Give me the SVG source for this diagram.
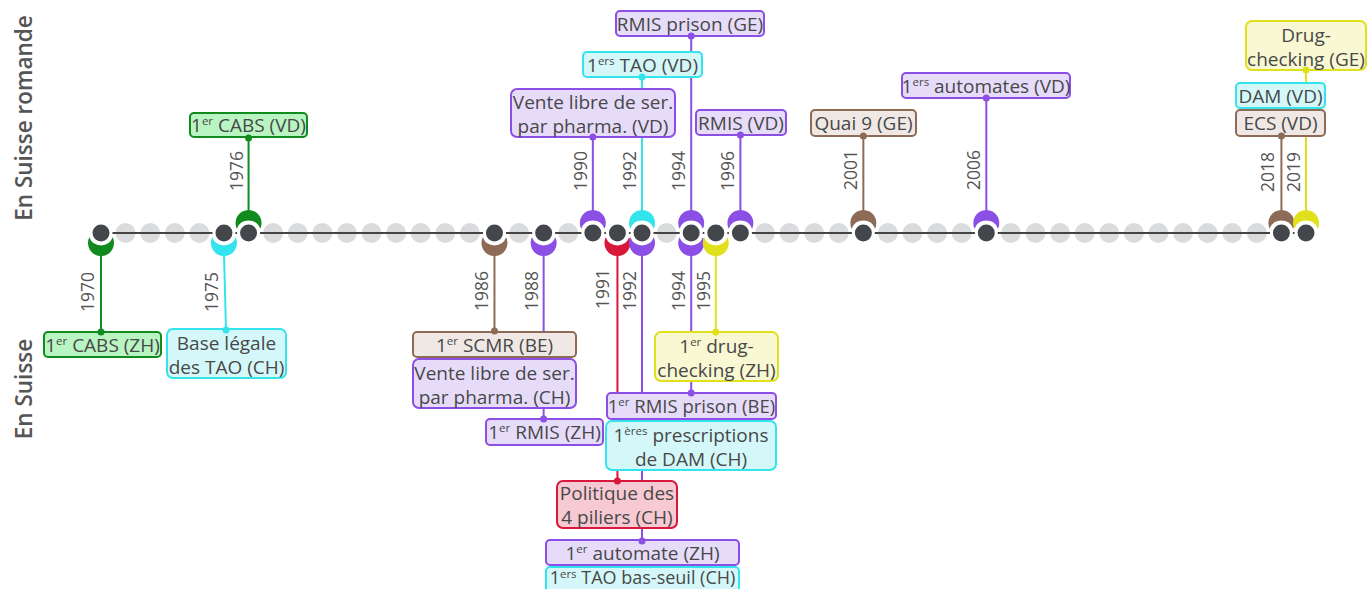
<svg xmlns="http://www.w3.org/2000/svg" width="1368" height="589" viewBox="0 0 1368 589">
<defs>
<style>
.bx{stroke-width:2}
.t{font-family:"Open Sans","Liberation Sans",sans-serif;font-size:19px;fill:#484848;text-anchor:middle}
.s{font-size:11.5px}
.yr{font-family:"Open Sans","Liberation Sans",sans-serif;font-size:17.5px;fill:#555;text-anchor:middle}
.side{font-family:"Open Sans","Liberation Sans",sans-serif;font-size:22.5px;font-weight:600;fill:#555;text-anchor:middle}
.st{stroke-width:2;fill:none}
.gr{fill:#d9dbdd}
.nd{fill:#43474c;stroke:#fff;stroke-width:3}
.green{stroke:#118a1e;fill:#b8f5c2}
.cyan{stroke:#33e4ec;fill:#d4f8f9}
.purple{stroke:#8b4fe6;fill:#e6dcfa}
.brown{stroke:#8d6b57;fill:#efe8e4}
.red{stroke:#d8183a;fill:#f7c9d2}
.yellow{stroke:#e0e01c;fill:#f8f8d2}
.cg{fill:#118a1e}.cc{fill:#33e4ec}.cp{fill:#8b4fe6}.cb{fill:#8d6b57}.cr{fill:#d8183a}.cy{fill:#e0e01c}
.sg{stroke:#118a1e}.sc{stroke:#33e4ec}.sp{stroke:#8b4fe6}.sb{stroke:#8d6b57}.sr{stroke:#d8183a}.sy{stroke:#e0e01c}
</style>
<path id="up" d="M -11.7,-4.36 A 13 13 0 1 1 11.7,-4.36 A 12.5 12.5 0 0 0 -11.7,-4.36 Z"/>
<path id="dn" d="M -11.7,4.36 A 13 13 0 1 0 11.7,4.36 A 12.5 12.5 0 0 1 -11.7,4.36 Z"/>
</defs>
<rect width="1368" height="589" fill="#fff"/>

<g id="side-labels">
<text class="side" transform="translate(32,118) rotate(-90)">En Suisse romande</text>
<text class="side" transform="translate(32,389) rotate(-90)">En Suisse</text>
</g>

<g id="axis">
<g class="gr">
<circle cx="125.59" cy="233" r="10"/><circle cx="150.18" cy="233" r="10"/><circle cx="174.78" cy="233" r="10"/><circle cx="199.37" cy="233" r="10"/>
<circle cx="273.14" cy="233" r="10"/><circle cx="297.73" cy="233" r="10"/><circle cx="322.33" cy="233" r="10"/><circle cx="346.92" cy="233" r="10"/><circle cx="371.51" cy="233" r="10"/><circle cx="396.10" cy="233" r="10"/><circle cx="420.69" cy="233" r="10"/><circle cx="445.29" cy="233" r="10"/><circle cx="469.88" cy="233" r="10"/>
<circle cx="519.06" cy="233" r="10"/><circle cx="568.24" cy="233" r="10"/>
<circle cx="666.61" cy="233" r="10"/>
<circle cx="764.98" cy="233" r="10"/><circle cx="789.57" cy="233" r="10"/><circle cx="814.16" cy="233" r="10"/><circle cx="838.76" cy="233" r="10"/>
<circle cx="887.94" cy="233" r="10"/><circle cx="912.53" cy="233" r="10"/><circle cx="937.12" cy="233" r="10"/><circle cx="961.71" cy="233" r="10"/>
<circle cx="1010.90" cy="233" r="10"/><circle cx="1035.49" cy="233" r="10"/><circle cx="1060.08" cy="233" r="10"/><circle cx="1084.67" cy="233" r="10"/><circle cx="1109.27" cy="233" r="10"/><circle cx="1133.86" cy="233" r="10"/><circle cx="1158.45" cy="233" r="10"/><circle cx="1183.04" cy="233" r="10"/><circle cx="1207.63" cy="233" r="10"/><circle cx="1232.22" cy="233" r="10"/><circle cx="1256.82" cy="233" r="10"/>
</g>
<line x1="101" y1="233" x2="1306" y2="233" stroke="#444" stroke-width="2"/>
</g>

<g id="connectors">
<line class="st sg" x1="248.55" y1="214" x2="248.55" y2="138"/>
<line class="st sp" x1="592.84" y1="214" x2="592.84" y2="137"/>
<line class="st sc" x1="642.02" y1="214" x2="642.02" y2="77"/>
<line class="st sp" x1="691.2" y1="214" x2="691.2" y2="36"/>
<line class="st sp" x1="740.39" y1="214" x2="740.39" y2="135"/>
<line class="st sb" x1="863.35" y1="214" x2="863.35" y2="136"/>
<line class="st sp" x1="986.31" y1="214" x2="986.31" y2="98"/>
<line class="st sb" x1="1281.41" y1="214" x2="1281.41" y2="136"/>
<line class="st sy" x1="1306" y1="214" x2="1306" y2="70"/>
<line class="st sg" x1="101" y1="252" x2="101" y2="332"/>
<line class="st sc" x1="223.96" y1="252" x2="226" y2="330"/>
<line class="st sb" x1="494.47" y1="252" x2="494.47" y2="331"/>
<line class="st sp" x1="543.65" y1="252" x2="543.65" y2="419"/>
<line class="st sr" x1="617.43" y1="252" x2="617.43" y2="481"/>
<line class="st sp" x1="642.02" y1="252" x2="642.02" y2="541"/>
<line class="st sp" x1="691.2" y1="252" x2="691.2" y2="393"/>
<line class="st sy" x1="715.8" y1="252" x2="715.8" y2="332"/>
</g>

<g id="years">
<text class="yr" transform="translate(242.5,171) rotate(-90)">1976</text>
<text class="yr" transform="translate(586.8,171) rotate(-90)">1990</text>
<text class="yr" transform="translate(636,171) rotate(-90)">1992</text>
<text class="yr" transform="translate(685.2,171) rotate(-90)">1994</text>
<text class="yr" transform="translate(734.4,171) rotate(-90)">1996</text>
<text class="yr" transform="translate(857.3,170) rotate(-90)">2001</text>
<text class="yr" transform="translate(980.3,170) rotate(-90)">2006</text>
<text class="yr" transform="translate(1274.4,172) rotate(-90)">2018</text>
<text class="yr" transform="translate(1300,172) rotate(-90)">2019</text>
<text class="yr" transform="translate(94,292) rotate(-90)">1970</text>
<text class="yr" transform="translate(218,292) rotate(-90)">1975</text>
<text class="yr" transform="translate(488,291) rotate(-90)">1986</text>
<text class="yr" transform="translate(537.6,291) rotate(-90)">1988</text>
<text class="yr" transform="translate(609.4,289) rotate(-90)">1991</text>
<text class="yr" transform="translate(636,291) rotate(-90)">1992</text>
<text class="yr" transform="translate(685.2,291) rotate(-90)">1994</text>
<text class="yr" transform="translate(709.8,291) rotate(-90)">1995</text>
</g>

<g id="nodes-axis">
<g id="n1970"><circle class="nd" cx="101" cy="233" r="10"/><use href="#dn" x="101" y="233" class="cg"/></g>
<g id="n1975"><circle class="nd" cx="223.96" cy="233" r="10"/><use href="#dn" x="223.96" y="233" class="cc"/></g>
<g id="n1976"><circle class="nd" cx="248.55" cy="233" r="10"/><use href="#up" x="248.55" y="233" class="cg"/></g>
<g id="n1986"><circle class="nd" cx="494.47" cy="233" r="10"/><use href="#dn" x="494.47" y="233" class="cb"/></g>
<g id="n1988"><circle class="nd" cx="543.65" cy="233" r="10"/><use href="#dn" x="543.65" y="233" class="cp"/></g>
<g id="n1990"><circle class="nd" cx="592.84" cy="233" r="10"/><use href="#up" x="592.84" y="233" class="cp"/></g>
<g id="n1991"><circle class="nd" cx="617.43" cy="233" r="10"/><use href="#dn" x="617.43" y="233" class="cr"/></g>
<g id="n1992"><circle class="nd" cx="642.02" cy="233" r="10"/><use href="#up" x="642.02" y="233" class="cc"/><use href="#dn" x="642.02" y="233" class="cp"/></g>
<g id="n1994"><circle class="nd" cx="691.2" cy="233" r="10"/><use href="#up" x="691.2" y="233" class="cp"/><use href="#dn" x="691.2" y="233" class="cp"/></g>
<g id="n1995"><circle class="nd" cx="715.8" cy="233" r="10"/><use href="#dn" x="715.8" y="233" class="cy"/></g>
<g id="n1996"><circle class="nd" cx="740.39" cy="233" r="10"/><use href="#up" x="740.39" y="233" class="cp"/></g>
<g id="n2001"><circle class="nd" cx="863.35" cy="233" r="10"/><use href="#up" x="863.35" y="233" class="cb"/></g>
<g id="n2006"><circle class="nd" cx="986.31" cy="233" r="10"/><use href="#up" x="986.31" y="233" class="cp"/></g>
<g id="n2018"><circle class="nd" cx="1281.41" cy="233" r="10"/><use href="#up" x="1281.41" y="233" class="cb"/></g>
<g id="n2019"><circle class="nd" cx="1306" cy="233" r="10"/><use href="#up" x="1306" y="233" class="cy"/></g>
</g>

<g id="box-cabs-vd"><rect class="bx green" x="190" y="113" width="117" height="24" rx="4"/><text class="t" x="248.5" y="131.5">1<tspan class="s" dy="-6.5">er</tspan><tspan dy="6.5"> CABS (VD)</tspan></text></g>
<g id="box-vente-vd"><rect class="bx purple" x="511" y="89" width="164" height="48" rx="6"/><text class="t" x="593" y="109">Vente libre de ser.</text><text class="t" x="593" y="133">par pharma. (VD)</text></g>
<g id="box-tao-vd"><rect class="bx cyan" x="583" y="52" width="119" height="25" rx="4"/><text class="t" x="642.5" y="71.5">1<tspan class="s" dy="-6.5">ers</tspan><tspan dy="6.5"> TAO (VD)</tspan></text></g>
<g id="box-rmis-prison-ge"><rect class="bx purple" x="616" y="11" width="148" height="25" rx="4"/><text class="t" x="690" y="30.5">RMIS prison (GE)</text></g>
<g id="box-rmis-vd"><rect class="bx purple" x="696" y="110" width="90" height="25" rx="4"/><text class="t" x="741" y="129.5">RMIS (VD)</text></g>
<g id="box-quai9"><rect class="bx brown" x="811" y="110" width="105" height="26" rx="4"/><text class="t" x="863.5" y="129.5">Quai 9 (GE)</text></g>
<g id="box-automates-vd"><rect class="bx purple" x="902" y="73" width="168" height="25" rx="4"/><text class="t" x="986" y="92.5">1<tspan class="s" dy="-6.5">ers</tspan><tspan dy="6.5"> automates (VD)</tspan></text></g>
<g id="box-drug-ge"><rect class="bx yellow" x="1246" y="21" width="120" height="49" rx="6"/><text class="t" x="1306" y="41.5">Drug-</text><text class="t" x="1306" y="65.5">checking (GE)</text></g>
<g id="box-dam-vd"><rect class="bx cyan" x="1236" y="83" width="89" height="25" rx="4"/><text class="t" x="1280.5" y="102.5">DAM (VD)</text></g>
<g id="box-ecs-vd"><rect class="bx brown" x="1236" y="110" width="89" height="26" rx="4"/><text class="t" x="1280.5" y="129.5">ECS (VD)</text></g>

<g id="box-cabs-zh"><rect class="bx green" x="44" y="332" width="117" height="25" rx="4"/><text class="t" x="102.5" y="351.5">1<tspan class="s" dy="-6.5">er</tspan><tspan dy="6.5"> CABS (ZH)</tspan></text></g>
<g id="box-base-legale"><rect class="bx cyan" x="167" y="329" width="119" height="49" rx="6"/><text class="t" x="226.5" y="349.5">Base légale</text><text class="t" x="226.5" y="373.5">des TAO (CH)</text></g>
<g id="box-scmr-be"><rect class="bx brown" x="413" y="332" width="163" height="25" rx="4"/><text class="t" x="494.5" y="351.5">1<tspan class="s" dy="-6.5">er</tspan><tspan dy="6.5"> SCMR (BE)</tspan></text></g>
<g id="box-vente-ch"><rect class="bx purple" x="413" y="359" width="163" height="49" rx="6"/><text class="t" x="494.5" y="379.5">Vente libre de ser.</text><text class="t" x="494.5" y="403.5">par pharma. (CH)</text></g>
<g id="box-rmis-zh"><rect class="bx purple" x="486" y="419" width="117" height="26" rx="4"/><text class="t" x="544.5" y="438.5">1<tspan class="s" dy="-6.5">er</tspan><tspan dy="6.5"> RMIS (ZH)</tspan></text></g>
<g id="box-drug-zh"><rect class="bx yellow" x="655" y="332" width="123" height="49" rx="6"/><text class="t" x="716.5" y="352.5">1<tspan class="s" dy="-6.5">er</tspan><tspan dy="6.5"> drug-</tspan></text><text class="t" x="716.5" y="376.5">checking (ZH)</text></g>
<g id="box-rmis-prison-be"><rect class="bx purple" x="607" y="393" width="169" height="26" rx="4"/><text class="t" x="691.5" y="412.5" style="font-size:18.5px">1<tspan class="s" dy="-6.5">er</tspan><tspan dy="6.5"> RMIS prison (BE)</tspan></text></g>
<g id="box-prescriptions"><rect class="bx cyan" x="606" y="421" width="170" height="49" rx="6"/><text class="t" x="691" y="441.5">1<tspan class="s" dy="-6.5">ères</tspan><tspan dy="6.5"> prescriptions</tspan></text><text class="t" x="691" y="465.5">de DAM (CH)</text></g>
<g id="box-politique"><rect class="bx red" x="557" y="481" width="120" height="47" rx="6"/><text class="t" x="617" y="500">Politique des</text><text class="t" x="617" y="524">4 piliers (CH)</text></g>
<g id="box-automate-zh"><rect class="bx purple" x="546" y="540" width="193" height="25" rx="4"/><text class="t" x="642.5" y="559.5">1<tspan class="s" dy="-6.5">er</tspan><tspan dy="6.5"> automate (ZH)</tspan></text></g>
<g id="box-tao-bas-seuil"><rect class="bx cyan" x="546" y="567" width="193" height="25" rx="4"/><text class="t" x="642.5" y="584" style="font-size:18px">1<tspan class="s" dy="-6.5">ers</tspan><tspan dy="6.5"> TAO bas-seuil (CH)</tspan></text></g>

<g id="attach-dots">
<circle class="cg" cx="248.55" cy="138" r="3.5"/>
<circle class="cp" cx="592.84" cy="137" r="3.5"/>
<circle class="cc" cx="642.02" cy="77" r="3.5"/>
<circle class="cp" cx="691.2" cy="36" r="3.5"/>
<circle class="cp" cx="740.39" cy="135" r="3.5"/>
<circle class="cb" cx="863.35" cy="136" r="3.5"/>
<circle class="cp" cx="986.31" cy="98" r="3.5"/>
<circle class="cb" cx="1281.41" cy="136" r="3.5"/>
<circle class="cy" cx="1306" cy="70" r="3.5"/>
<circle class="cg" cx="101" cy="332" r="3.5"/>
<circle class="cc" cx="226" cy="330" r="3.5"/>
<circle class="cb" cx="494.47" cy="331" r="3.5"/>
<circle class="cp" cx="543.65" cy="419" r="3.5"/>
<circle class="cr" cx="617.43" cy="481" r="3.5"/>
<circle class="cp" cx="642.02" cy="541" r="3.5"/>
<circle class="cp" cx="691.2" cy="393" r="3.5"/>
<circle class="cy" cx="715.8" cy="332" r="3.5"/>
</g>
</svg>
